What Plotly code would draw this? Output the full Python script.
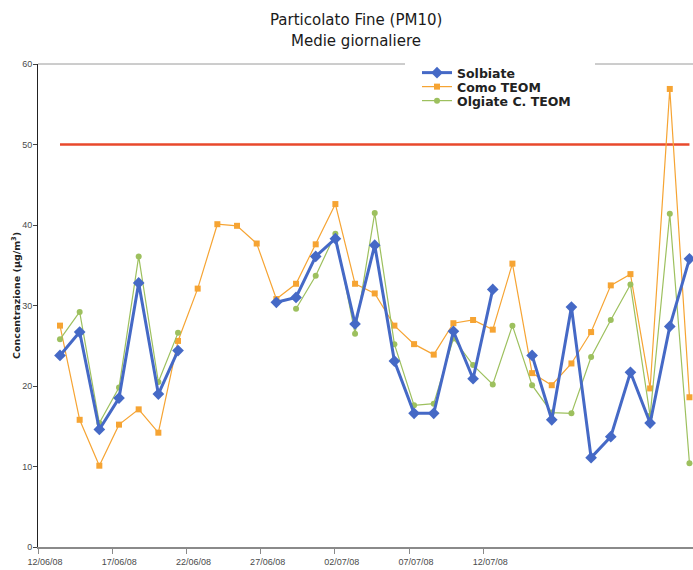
import datetime as dt
import plotly.graph_objects as go

# ---- data ----
giorno = list(range(33))

solbiate = [23.8, 26.7, 14.6, 18.5, 32.8, 19.0, 24.4, None, None, None, None,
            30.4, 31.0, 36.1, 38.3, 27.7, 37.5, 23.1, 16.6, 16.6, 26.8, 20.9, 32.0,
            None, 23.8, 15.8, 29.8, 11.1, 13.7, 21.7, 15.4, 27.4, 35.8]

como_teom = [27.5, 15.8, 10.1, 15.2, 17.1, 14.2, 25.6, 32.1, 40.1, 39.9, 37.7,
             30.8, 32.7, 37.6, 42.6, 32.7, 31.5, 27.5, 25.2, 23.9, 27.8, 28.2, 27.0,
             35.2, 21.6, 20.1, 22.8, 26.7, 32.5, 33.9, 19.7, 56.9, 18.6]

olgiate_teom = [25.8, 29.2, 15.4, 19.8, 36.1, 20.5, 26.6, None, None, None, None, None,
                29.6, 33.7, 38.9, 26.5, 41.5, 25.2, 17.6, 17.8, 25.9, 22.6, 20.2,
                27.5, 20.1, 16.7, 16.6, 23.6, 28.2, 32.6, 16.3, 41.4, 10.4]

limite = [50] * len(giorno)

tick_dates = ["2008-06-12", "2008-06-17", "2008-06-22", "2008-06-27",
              "2008-07-02", "2008-07-07", "2008-07-12"]
tick_labels = ["12/06/08", "17/06/08", "22/06/08", "27/06/08",
               "02/07/08", "07/07/08", "12/07/08"]
y_ticks = [0, 10, 20, 30, 40, 50, 60]

title_lines = ["Particolato Fine (PM10)", "Medie giornaliere"]
y_title = "<b>Concentrazione (µg/m<sup>3</sup>)</b>"

# ---- styles ----
BLUE = "#4569C6"
ORANGE = "#F6A433"
GREEN = "#9DC05E"
RED = "#E8492C"
TICKFONT = dict(family="Liberation Sans, Arial, sans-serif", size=9, color="#4a4a4a")
LEGFONT = dict(family="DejaVu Sans, Verdana, sans-serif", size=12.5, color="#222222",
               weight="bold")
TITLEFONT = dict(family="DejaVu Sans, Verdana, sans-serif", size=15, color="#1a1a1a")

fig = go.Figure()

fig.add_trace(go.Scatter(x=giorno, y=limite, mode="lines", showlegend=False,
                         line=dict(color=RED, width=2.5), hoverinfo="skip"))
fig.add_trace(go.Scatter(x=giorno, y=como_teom, name="Como TEOM", mode="lines+markers",
                         line=dict(color=ORANGE, width=1.2),
                         marker=dict(symbol="square", size=6, color=ORANGE),
                         legend="legend2"))
fig.add_trace(go.Scatter(x=giorno, y=olgiate_teom, name="Olgiate C. TEOM", mode="lines+markers",
                         line=dict(color=GREEN, width=1.2),
                         marker=dict(symbol="circle", size=6, color=GREEN),
                         legend="legend3"))
fig.add_trace(go.Scatter(x=giorno, y=solbiate, name="Solbiate", mode="lines+markers",
                         line=dict(color=BLUE, width=3),
                         marker=dict(symbol="diamond", size=9, color=BLUE),
                         legend="legend"))

# invisible helper trace so the date label axis is drawn
fig.add_trace(go.Scatter(x=tick_dates, y=[None] * len(tick_dates), xaxis="x2",
                         showlegend=False, hoverinfo="skip", mode="markers"))

start = dt.datetime(2008, 6, 12)
end = start + dt.timedelta(days=44.13)

L, T, W, H = 38, 64, 655, 483
leg_x = (417 - L) / W


def leg(top_px):
    return dict(x=leg_x, y=1 + (T - top_px) / H, xanchor="left", yanchor="top",
                bgcolor="rgba(0,0,0,0)", borderwidth=0, font=LEGFONT)


def py(px):
    return (T + H - px) / H


annotations = [
    dict(text=title_lines[0], xref="paper", yref="paper", x=(356 - L) / W, y=py(20),
         xanchor="center", yanchor="middle", showarrow=False, font=TITLEFONT),
    dict(text=title_lines[1], xref="paper", yref="paper", x=(356 - L) / W, y=py(41),
         xanchor="center", yanchor="middle", showarrow=False, font=TITLEFONT),
    dict(text=y_title, xref="paper", yref="paper", x=(16 - L) / W, y=py(296),
         xanchor="center", yanchor="middle", textangle=-90, showarrow=False,
         font=dict(family="DejaVu Sans, Verdana, sans-serif", size=9.5, color="#222222")),
]

fig.update_layout(
    width=693, height=570,
    margin=dict(l=L, r=0, t=T, b=23),
    paper_bgcolor="white", plot_bgcolor="white",
    xaxis=dict(range=[-1.118, 32.18], visible=False, showgrid=False, zeroline=False),
    xaxis2=dict(overlaying="x", side="bottom", type="date",
                range=[start, end], tickvals=tick_dates, ticktext=tick_labels,
                showline=True, linecolor="#8a8a8a", linewidth=2,
                ticks="outside", ticklen=5, tickcolor="#8a8a8a", tickwidth=1,
                ticklabelshift=7,
                showgrid=False, zeroline=False, tickfont=TICKFONT),
    yaxis=dict(range=[0, 60], tickvals=y_ticks, showline=True, linecolor="#222222",
               linewidth=1, ticks="outside", ticklen=4, tickcolor="#444444",
               ticklabelstandoff=-1,
               showgrid=False, zeroline=False, tickfont=TICKFONT),
    legend=leg(58),
    legend2=leg(72),
    legend3=leg(86),
    annotations=annotations,
    shapes=[dict(type="line", xref="paper", yref="paper", x0=0, x1=(405 - L) / W,
                 y0=1, y1=1, line=dict(color="#9a9a9a", width=1)),
            dict(type="line", xref="paper", yref="paper", x0=(595 - L) / W, x1=1,
                 y0=1, y1=1, line=dict(color="#9a9a9a", width=1))],
    showlegend=True,
)

fig.write_html("out.html", config={"displayModeBar": False},
               post_script="document.body.style.margin='0';")
